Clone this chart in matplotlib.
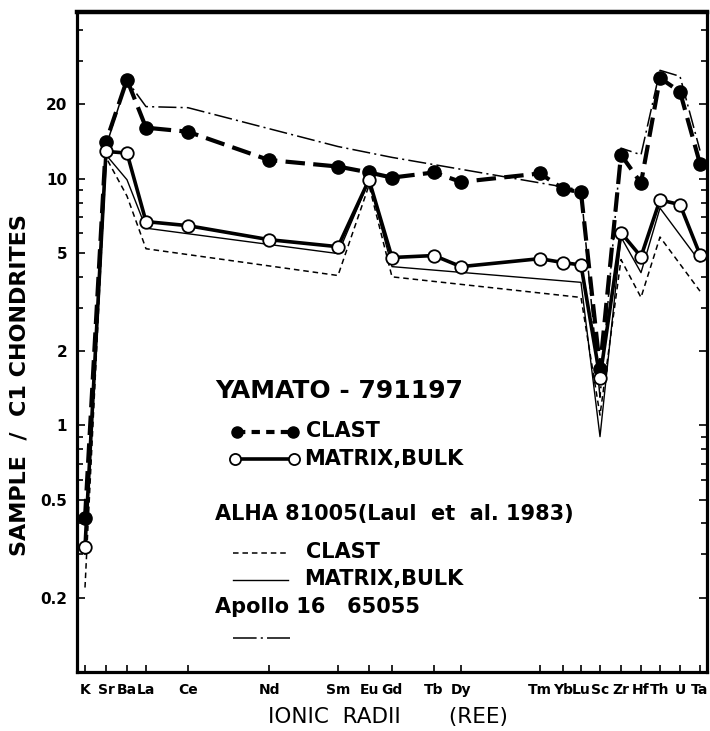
import matplotlib
matplotlib.use("Agg")
import matplotlib.pyplot as plt
import numpy as np
from matplotlib.ticker import FixedLocator, LogLocator, NullFormatter

plt.rcParams['lines.scale_dashes'] = False
plt.rcParams['font.family'] = ['DejaVu Sans']

# element order along the ionic radius axis (position in arbitrary units)
elements = ["K", "Sr", "Ba", "La", "Ce", "Nd", "Sm", "Eu", "Gd", "Tb", "Dy",
            "Tm", "Yb", "Lu", "Sc", "Zr", "Hf", "Th", "U", "Ta"]
xpos = [8, 29, 50, 69, 111, 192, 261, 292, 315, 357, 384,
        463, 486, 504, 523, 544, 564, 583, 603, 623]

# Yamato-791197
yam_clast = [0.42, 14.1, 25.2, 16.1, 15.5, 11.9, 11.2, 10.6, 10.1, 10.6, 9.7,
             10.5, 9.1, 8.8, 1.7, 12.5, 9.6, 25.6, 22.5, 11.5]
yam_matrix = [0.32, 12.9, 12.7, 6.7, 6.45, 5.66, 5.3, 9.9, 4.79, 4.88, 4.4,
              4.74, 4.57, 4.47, 1.56, 6.04, 4.83, 8.2, 7.85, 4.92]

# ALHA 81005 (Laul et al. 1983)
alha_elements = ["K", "Sr", "Ba", "La", "Sm", "Eu", "Gd", "Lu", "Sc", "Zr", "Hf", "Th", "Ta"]
alha_clast = [0.22, 12.2, 8.5, 5.2, 4.05, 9.4, 4.0, 3.3, 1.1, 4.7, 3.3, 5.8, 3.5]
alha_matrix = [0.30, 12.5, 9.9, 6.3, 4.97, 9.8, 4.4, 3.8, 0.9, 5.8, 4.16, 7.6, 4.6]

# Apollo 16 65055
apollo_elements = ["Sr", "Ba", "La", "Ce", "Sm", "Gd", "Lu", "Sc", "Zr", "Hf", "Th", "U", "Ta"]
apollo = [13.5, 25.0, 19.6, 19.4, 13.5, 12.2, 9.0, 1.3, 13.3, 12.5, 27.5, 26.0, 13.0]

ytick_vals = [0.2, 0.5, 1, 2, 5, 10, 20]
ytick_labels = ["0.2", "0.5", "1", "2", "5", "10", "20"]

x_alha = [xpos[elements.index(e)] for e in alha_elements]
x_apollo = [xpos[elements.index(e)] for e in apollo_elements]

fig = plt.figure(figsize=(7.1, 7.31), dpi=100)
ax = fig.add_axes([77/710, 1 - 672/731, 630/710, 660/731])

dash_clast = (14, 6)
dash_alha = (4, 2.8)
dash_apollo = (13, 3, 1.5, 3)

ax.plot(x_alha, alha_clast, color='k', lw=1.1, dashes=dash_alha, zorder=2)
ax.plot(x_alha, alha_matrix, color='k', lw=1.0, zorder=2)
ax.plot(x_apollo, apollo, color='k', lw=1.1, dashes=dash_apollo, zorder=2)
ax.plot(xpos, yam_clast, color='k', lw=3.0, dashes=dash_clast,
        marker='o', ms=9.5, mfc='k', mec='k', zorder=3)
ax.plot(xpos, yam_matrix, color='k', lw=2.6,
        marker='o', ms=9, mfc='white', mec='k', mew=1.3, zorder=4)

ax.set_yscale('log')
ax.set_ylim(0.1, 47.4)
ax.set_xlim(0, 630)

ax.yaxis.set_major_locator(FixedLocator(ytick_vals))
ax.set_yticks(ytick_vals, ytick_labels)
ax.yaxis.set_minor_locator(LogLocator(base=10, subs=np.arange(1, 10)))
ax.yaxis.set_minor_formatter(NullFormatter())
ax.set_xticks(xpos, elements)

ax.tick_params(axis='y', which='both', direction='in', left=True, right=True, width=1.2)
ax.tick_params(axis='y', which='major', length=6, pad=7)
ax.tick_params(axis='y', which='minor', length=4)
ax.tick_params(axis='x', direction='in', length=5, width=1.2, pad=8, top=False)
for lab in ax.get_yticklabels():
    lab.set_fontsize(11)
    lab.set_fontweight('bold')
for lab in ax.get_xticklabels():
    lab.set_fontsize(10)
    lab.set_fontweight('bold')

for sp in ax.spines.values():
    sp.set_linewidth(2.3)
ax.spines['top'].set_linewidth(3.2)

ax.set_ylabel("SAMPLE  /  C1 CHONDRITES", fontsize=16, fontweight='bold', va='center')
ax.yaxis.set_label_coords(-0.092, 0.435)
ax.set_xlabel("IONIC  RADII       (REE)", fontsize=15.5, va='center')
ax.xaxis.set_label_coords(0.494, -0.068)


# legend block drawn by hand, positions given in figure pixels
def axp(px, py):
    return (px - 77) / 630, (672 - py) / 660


def sample(x0, x1, y, **kw):
    a = axp(x0, y)
    b = axp(x1, y)
    ax.plot([a[0], b[0]], [a[1], b[1]], transform=ax.transAxes, clip_on=False, color='k', **kw)


def label(px, py, s, size=15, weight='bold', va='center'):
    x, y = axp(px, py)
    ax.text(x, y, s, transform=ax.transAxes, fontsize=size, fontweight=weight, va=va, ha='left')


label(215, 398, "YAMATO - 791197", size=18, va='baseline')
sample(237, 293, 432, lw=3.0, dashes=(6, 4.5), marker='o', ms=8, mfc='k', mec='k')
label(306, 431, "CLAST")
sample(235, 294, 459, lw=2.6, marker='o', ms=8, mfc='white', mec='k', mew=1.3)
label(304, 459, "MATRIX,BULK")

label(215, 520, "ALHA 81005(Laul  et  al. 1983)", va='baseline')
sample(233, 288, 553, lw=1.1, dashes=dash_alha)
label(306, 552, "CLAST")
sample(233, 288, 580, lw=1.0)
label(304, 579, "MATRIX,BULK")
label(215, 613, "Apollo 16   65055", va='baseline')
sample(233, 290, 638, lw=1.1, dashes=(17, 3, 1.5, 3))

fig.savefig("out.png", dpi=100)
